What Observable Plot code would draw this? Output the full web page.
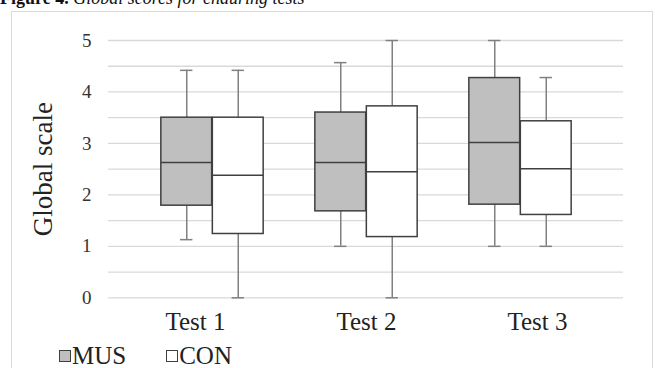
<!DOCTYPE html>
<html>
<head>
<meta charset="utf-8">
<script src="https://cdn.jsdelivr.net/npm/d3@7"></script>
<script src="https://cdn.jsdelivr.net/npm/@observablehq/plot@0.6"></script>
<style>
  html, body { margin: 0; padding: 0; background: #fff; }
  #wrap { position: relative; width: 655px; height: 368px; overflow: hidden; font-family: "Liberation Serif", "Times New Roman", serif; }
  #title { position: absolute; left: 0; top: -11px; font-size: 18px; line-height: 18px; white-space: nowrap; color: #111; }
  #frame { position: absolute; left: 11px; top: 11px; width: 642px; height: 420px; border: 1.5px solid #d9d9d9; box-sizing: border-box; }
  #chart { position: absolute; left: 0; top: 0; }
  #legend { position: absolute; left: 59px; top: 343px; font-size: 25px; line-height: 25px; color: #222; display: flex; align-items: center; }
  .sw { display: inline-block; width: 12px; height: 12px; border: 1px solid #404040; box-sizing: border-box; margin-right: 1px; }
  .item { display: flex; align-items: center; margin-right: 40px; }
</style>
</head>
<body>
<div id="wrap">
  <div id="title"><b>Figure 4.</b> <i>Global scores for enduring tests</i></div>
  <div id="frame"></div>
  <div id="chart"></div>
  <div id="legend"></div>
</div>
<script>
const tests = ["Test 1", "Test 2", "Test 3"];
const groups = ["MUS", "CON"];
const groupFill = ["#bfbfbf", "#ffffff"];
const yTicks = [0, 1, 2, 3, 4, 5];
const gridValues = [0, 0.5, 1, 1.5, 2, 2.5, 3, 3.5, 4, 4.5, 5];

// per test, per group
const musMin    = [1.13, 1.00, 1.00];
const musQ1     = [1.79, 1.68, 1.81];
const musMedian = [2.63, 2.63, 3.02];
const musQ3     = [3.50, 3.60, 4.27];
const musMax    = [4.42, 4.57, 5.00];

const conMin    = [0.00, 0.00, 1.00];
const conQ1     = [1.24, 1.18, 1.61];
const conMedian = [2.38, 2.45, 2.51];
const conQ3     = [3.50, 3.72, 3.43];
const conMax    = [4.42, 5.00, 4.28];

const rows = [];
tests.forEach((t, i) => {
  rows.push({test: t, group: "MUS", min: musMin[i], q1: musQ1[i], med: musMedian[i], q3: musQ3[i], max: musMax[i]});
  rows.push({test: t, group: "CON", min: conMin[i], q1: conQ1[i], med: conMedian[i], q3: conQ3[i], max: conMax[i]});
});
const mus = rows.filter(d => d.group === "MUS");
const con = rows.filter(d => d.group === "CON");

const xRange = [134, 598];
const bw = (xRange[1] - xRange[0]) / tests.length;
const half = bw / 2;
const boxW = 51.5;
const capHalf = 6.5;
const off = boxW / 2;

const boxStroke = "#404040";
const whisk = "#808080";

function groupMarks(data, side) {
  const boxIL = side < 0 ? half - boxW : half;
  const boxIR = side < 0 ? half : half - boxW;
  const capIL = half + side * off - capHalf;
  const capIR = half - side * off - capHalf;
  const fill = side < 0 ? groupFill[0] : groupFill[1];
  return [
    Plot.ruleX(data, {x: "test", y1: "min", y2: "q1", dx: side * off, stroke: whisk, strokeWidth: 1.5}),
    Plot.ruleX(data, {x: "test", y1: "q3", y2: "max", dx: side * off, stroke: whisk, strokeWidth: 1.5}),
    Plot.tickY(data, {x: "test", y: "min", insetLeft: capIL, insetRight: capIR, stroke: whisk, strokeWidth: 1.5}),
    Plot.tickY(data, {x: "test", y: "max", insetLeft: capIL, insetRight: capIR, stroke: whisk, strokeWidth: 1.5}),
    Plot.barY(data, {x: "test", y1: "q1", y2: "q3", insetLeft: boxIL, insetRight: boxIR, fill, stroke: boxStroke, strokeWidth: 1.5}),
    Plot.tickY(data, {x: "test", y: "med", insetLeft: boxIL, insetRight: boxIR, stroke: boxStroke, strokeWidth: 1.5})
  ];
}

const labelShift = [-17, 0, 17];

const chart = Plot.plot({
  width: 655,
  height: 368,
  marginLeft: 108,
  marginRight: 32,
  marginTop: 40,
  marginBottom: 70.7,
  style: {fontFamily: "Liberation Serif, Times New Roman, serif", fontSize: "18px", background: "transparent", overflow: "visible"},
  x: {domain: tests, range: xRange, padding: 0, axis: null},
  y: {domain: [0, 5], axis: null},
  marks: [
    Plot.ruleY(gridValues, {y: d => d, stroke: "#d9d9d9", strokeWidth: 1.3}),
    Plot.axisY(yTicks, {tickSize: 0, tickPadding: 17, tickFormat: d3.format("d"), fill: "#333", fontSize: 19, label: null}),
    Plot.text(["Global scale"], {frameAnchor: "left", textAnchor: "middle", dx: -65, rotate: -90, fontSize: 27, fill: "#222"}),
    ...tests.map((t, i) => Plot.text([t], {x: d => d, frameAnchor: "bottom", dy: 31.7, dx: labelShift[i], fontSize: 25, fill: "#222"})),
    ...groupMarks(mus, -1),
    ...groupMarks(con, 1)
  ]
});
document.getElementById("chart").appendChild(chart);

const legend = document.getElementById("legend");
groups.forEach((g, i) => {
  const item = document.createElement("span");
  item.className = "item";
  const sw = document.createElement("span");
  sw.className = "sw";
  sw.style.background = groupFill[i];
  item.appendChild(sw);
  item.appendChild(document.createTextNode(g));
  legend.appendChild(item);
});
</script>
</body>
</html>
